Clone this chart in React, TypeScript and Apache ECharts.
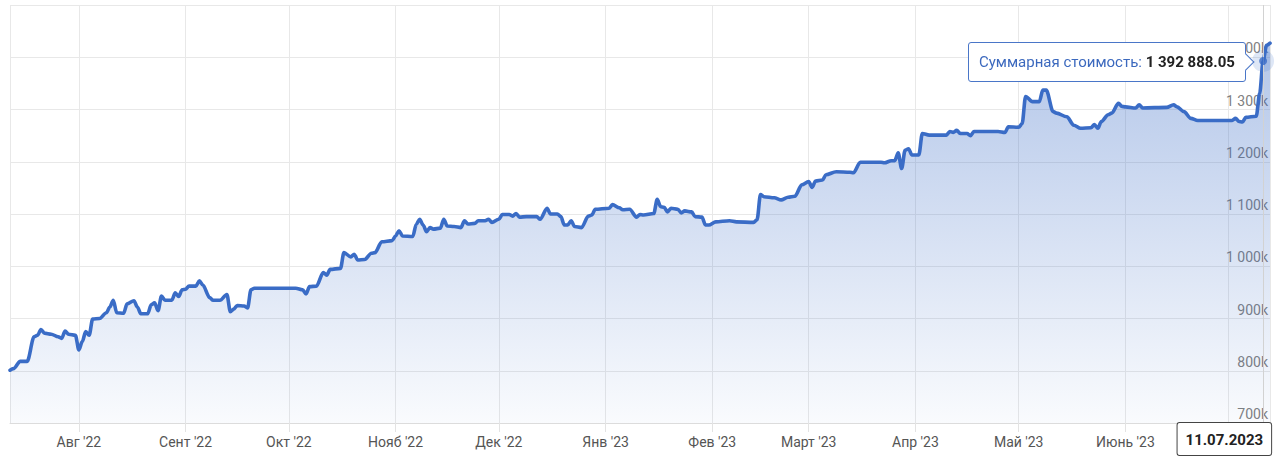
import React, { useEffect, useRef } from "react";
import * as echarts from "echarts";

// ---- data ----
const dates: string[] = [
  "2022-07-12", "2022-07-13", "2022-07-15", "2022-07-17", "2022-07-19", "2022-07-20", "2022-07-21", "2022-07-22",
  "2022-07-24", "2022-07-26", "2022-07-27", "2022-07-28", "2022-07-29", "2022-07-31",
  "2022-08-01", "2022-08-02", "2022-08-03", "2022-08-04", "2022-08-05", "2022-08-07", "2022-08-09", "2022-08-10",
  "2022-08-11", "2022-08-12", "2022-08-14", "2022-08-15", "2022-08-17", "2022-08-18", "2022-08-19", "2022-08-21",
  "2022-08-22", "2022-08-23", "2022-08-24", "2022-08-25", "2022-08-26", "2022-08-28", "2022-08-29", "2022-08-30",
  "2022-08-31",
  "2022-09-01", "2022-09-02", "2022-09-04", "2022-09-05", "2022-09-06", "2022-09-08", "2022-09-09", "2022-09-11",
  "2022-09-13", "2022-09-14", "2022-09-15", "2022-09-16", "2022-09-18", "2022-09-19", "2022-09-20", "2022-09-21",
  "2022-10-03", "2022-10-05", "2022-10-06", "2022-10-07", "2022-10-09", "2022-10-11", "2022-10-12", "2022-10-13",
  "2022-10-16", "2022-10-17", "2022-10-19", "2022-10-20", "2022-10-21", "2022-10-23", "2022-10-25", "2022-10-26",
  "2022-10-28", "2022-10-31",
  "2022-11-01", "2022-11-02", "2022-11-03", "2022-11-06", "2022-11-07", "2022-11-08", "2022-11-09", "2022-11-10",
  "2022-11-11", "2022-11-12", "2022-11-14", "2022-11-15", "2022-11-16", "2022-11-18", "2022-11-20", "2022-11-21",
  "2022-11-22", "2022-11-24", "2022-11-25", "2022-11-27", "2022-11-28", "2022-11-29",
  "2022-12-01", "2022-12-02", "2022-12-04", "2022-12-05", "2022-12-06", "2022-12-07", "2022-12-09", "2022-12-12",
  "2022-12-13", "2022-12-15", "2022-12-16", "2022-12-18", "2022-12-19", "2022-12-20", "2022-12-21", "2022-12-22",
  "2022-12-23", "2022-12-25", "2022-12-27", "2022-12-28", "2022-12-29",
  "2023-01-02", "2023-01-03", "2023-01-05", "2023-01-06", "2023-01-08", "2023-01-10", "2023-01-11", "2023-01-12",
  "2023-01-15", "2023-01-16", "2023-01-17", "2023-01-18", "2023-01-19", "2023-01-20", "2023-01-22", "2023-01-23",
  "2023-01-24", "2023-01-26", "2023-01-27", "2023-01-29", "2023-01-30", "2023-01-31",
  "2023-02-02", "2023-02-06", "2023-02-08", "2023-02-13", "2023-02-14", "2023-02-15", "2023-02-16", "2023-02-19",
  "2023-02-21", "2023-02-23", "2023-02-25", "2023-02-27",
  "2023-03-01", "2023-03-02", "2023-03-03", "2023-03-05", "2023-03-06", "2023-03-09", "2023-03-13", "2023-03-14",
  "2023-03-16", "2023-03-22", "2023-03-23", "2023-03-25", "2023-03-26", "2023-03-27", "2023-03-28", "2023-03-29",
  "2023-03-30", "2023-03-31",
  "2023-04-02", "2023-04-03", "2023-04-05", "2023-04-10", "2023-04-11", "2023-04-12", "2023-04-13", "2023-04-14",
  "2023-04-16", "2023-04-17", "2023-04-18", "2023-04-25", "2023-04-27", "2023-04-28",
  "2023-05-01", "2023-05-02", "2023-05-03", "2023-05-05", "2023-05-07", "2023-05-08", "2023-05-09", "2023-05-11",
  "2023-05-12", "2023-05-15", "2023-05-17", "2023-05-19", "2023-05-22", "2023-05-23", "2023-05-24", "2023-05-25",
  "2023-05-27", "2023-05-28", "2023-05-30", "2023-05-31",
  "2023-06-01", "2023-06-04", "2023-06-05", "2023-06-06", "2023-06-13", "2023-06-15", "2023-06-16", "2023-06-18",
  "2023-06-20", "2023-06-22",
  "2023-07-02", "2023-07-03", "2023-07-04", "2023-07-05", "2023-07-06", "2023-07-09", "2023-07-10", "2023-07-11",
  "2023-07-12", "2023-07-13",
];

const values: number[] = [
  801000, 804000, 818000, 818000, 865000, 868000, 879000, 872000,
  870000, 865000, 862000, 876000, 870000, 868000,
  840000, 856000, 875000, 868000, 899000, 900000, 911000, 922000,
  935000, 911000, 910000, 928000, 934000, 922000, 909000, 909000,
  926000, 930000, 915000, 943000, 935000, 935000, 949000, 942000,
  955000,
  956000, 962000, 962000, 972000, 964000, 940000, 935000, 935000,
  946000, 913000, 918000, 925000, 924000, 920000, 955000, 958000,
  958000, 955000, 947000, 961000, 962000, 988000, 983000, 994000,
  996000, 1026000, 1018000, 1023000, 1012000, 1013000, 1025000, 1026000,
  1047000, 1049000,
  1058000, 1068000, 1058000, 1057000, 1080000, 1090000, 1079000, 1066000,
  1074000, 1071000, 1073000, 1090000, 1077000, 1076000, 1074000, 1087000,
  1081000, 1082000, 1087000, 1087000, 1090000, 1084000,
  1090000, 1099000, 1099000, 1096000, 1101000, 1094000, 1095000, 1095000,
  1090000, 1111000, 1100000, 1100000, 1095000, 1079000, 1079000, 1087000,
  1076000, 1074000, 1096000, 1098000, 1109000,
  1111000, 1118000, 1112000, 1108000, 1109000, 1094000, 1099000, 1098000,
  1101000, 1128000, 1114000, 1113000, 1104000, 1111000, 1109000, 1102000,
  1106000, 1104000, 1095000, 1094000, 1079000, 1079000,
  1085000, 1087000, 1085000, 1084000, 1089000, 1137000, 1133000, 1131000,
  1127000, 1132000, 1134000, 1156000,
  1162000, 1151000, 1163000, 1165000, 1175000, 1181000, 1180000, 1179000,
  1199000, 1199000, 1198000, 1202000, 1202000, 1217000, 1187000, 1222000,
  1225000, 1213000,
  1213000, 1254000, 1251000, 1251000, 1258000, 1256000, 1260000, 1254000,
  1254000, 1250000, 1258000, 1258000, 1256000, 1267000,
  1266000, 1273000, 1325000, 1315000, 1315000, 1337000, 1337000, 1296000,
  1293000, 1286000, 1270000, 1264000, 1265000, 1271000, 1264000, 1277000,
  1290000, 1293000, 1312000, 1306000,
  1305000, 1303000, 1309000, 1303000, 1304000, 1309000, 1305000, 1296000,
  1283000, 1279000,
  1279000, 1283000, 1277000, 1276000, 1285000, 1287000, 1331000, 1392888.05,
  1423000, 1427000,
];

const monthNames: string[] = ["Янв", "Фев", "Март", "Апр", "Май", "Июнь", "Июль", "Авг", "Сент", "Окт", "Нояб", "Дек"];
const seriesName = "Суммарная стоимость";
const selectedDate = "2023-07-11";
const selectedLabel = "11.07.2023";
const yMin = 700000;
const yMax = 1500000;
const yStep = 100000;

const LINE = "#3a6cc6";
const TT_BORDER = "#4a76c8";
const FONT = "Roboto, 'Noto Sans', sans-serif";

const tooltipCss = `
.value-tt::after {
  content: "";
  position: absolute;
  right: -7px;
  top: 50%;
  width: 12px;
  height: 12px;
  margin-top: -6px;
  background: #ffffff;
  border-top: 1px solid ${TT_BORDER};
  border-right: 1px solid ${TT_BORDER};
  transform: rotate(45deg);
  box-sizing: border-box;
}
`;

function fmtSpace(n: number, digits: number): string {
  const parts = n.toFixed(digits).split(".");
  const intPart = parts[0].replace(/\B(?=(\d{3})+(?!\d))/g, " ");
  return parts.length > 1 ? intPart + "." + parts[1] : intPart;
}

export default function App() {
  const ref = useRef<HTMLDivElement>(null);

  useEffect(() => {
    document.body.style.margin = "0";
    if (!ref.current) return;
    const chart = echarts.init(ref.current, undefined, { renderer: "svg" });
    const lineData = dates.map((d, i) => [d, values[i]]);
    const selIdx = dates.indexOf(selectedDate);
    const selPoint = [dates[selIdx], values[selIdx]];
    const selMonth = new Date(selectedDate + "T00:00:00").getMonth();
    const selYear = new Date(selectedDate + "T00:00:00").getFullYear();

    chart.setOption({
      animation: false,
      grid: { left: 10, right: 10, top: 5, bottom: 43, outerBoundsMode: "none", containLabel: false },
      tooltip: {
        trigger: "item",
        triggerOn: "none",
        alwaysShowContent: true,
        transitionDuration: 0,
        className: "value-tt",
        position: (point: number[], _p: any, _d: any, _r: any, size: any) => [
          point[0] - size.contentSize[0] - 17,
          point[1] - size.contentSize[1] / 2 + 1,
        ],
        confine: false,
        backgroundColor: "#ffffff",
        borderColor: TT_BORDER,
        borderWidth: 1,
        borderRadius: 3,
        padding: [8, 10, 7, 10],
        textStyle: { color: "#3c69be", fontSize: 15, fontFamily: FONT },
        extraCssText: "box-shadow:none;",
        formatter: (p: any) =>
          `${seriesName}: <b style="color:#222;font-weight:700">${fmtSpace(p.value[1], 2)}</b>`,
      },
      xAxis: {
        type: "time",
        min: dates[0],
        max: dates[dates.length - 1],
        splitNumber: 10,
        boundaryGap: false,
        axisLine: { show: true, lineStyle: { color: "#dcdcdc", width: 1 } },
        axisTick: { show: true, length: 9, lineStyle: { color: "#e3e3e3" } },
        splitLine: { show: true, lineStyle: { color: "#e8e8e8", width: 1 } },
        axisLabel: {
          color: "#555",
          fontSize: 14,
          fontFamily: FONT,
          margin: 12,
          hideOverlap: false,
          formatter: (v: number) => {
            const d = new Date(v);
            if (d.getDate() !== 1) return "";
            if (d.getMonth() === selMonth && d.getFullYear() === selYear) return "";
            return `${monthNames[d.getMonth()]} '${String(d.getFullYear()).slice(2)}`;
          },
        },
      },
      yAxis: {
        type: "value",
        position: "right",
        min: yMin,
        max: yMax,
        interval: yStep,
        axisLine: { show: false },
        axisTick: { show: false },
        splitLine: { show: true, lineStyle: { color: "#e8e8e8", width: 1 } },
        axisLabel: {
          inside: true,
          margin: 2,
          showMaxLabel: false,
          showMinLabel: true,
          verticalAlign: "bottom",
          padding: [0, 0, 2, 0],
          color: "#808080",
          fontSize: 14,
          fontFamily: FONT,
          formatter: (v: number) => fmtSpace(v / 1000, 0) + "k",
        },
      },
      series: [
        {
          name: seriesName,
          type: "line",
          data: lineData,
          showSymbol: false,
          symbol: "none",
          smooth: 0.3,
          smoothMonotone: "x",
          silent: true,
          lineStyle: { color: LINE, width: 3.6, cap: "round", join: "round" },
          areaStyle: {
            color: new echarts.graphic.LinearGradient(0, 0, 0, 1, [
              { offset: 0, color: "rgba(58,108,198,0.55)" },
              { offset: 1, color: "rgba(58,108,198,0.04)" },
            ]),
          },
          emphasis: { disabled: true },
          markLine: {
            silent: true,
            symbol: ["none", "none"],
            lineStyle: { color: "#d2d2d2", width: 1, type: "solid" },
            label: {
              show: true,
              position: "start",
              formatter: selectedLabel,
              align: "right",
              distance: 0,
              offset: [8, 0],
              backgroundColor: "#ffffff",
              borderColor: "#444",
              borderWidth: 1,
              borderRadius: 2,
              padding: [9, 8, 8, 8],
              color: "#222",
              fontSize: 15,
              fontWeight: "bold",
              fontFamily: FONT,
            },
            data: [{ xAxis: selectedDate }],
          },
          z: 3,
        },
        {
          type: "scatter",
          data: [selPoint],
          symbolSize: 22,
          silent: true,
          itemStyle: { color: "rgba(70,120,205,0.22)" },
          emphasis: { disabled: true },
          z: 4,
        },
        {
          type: "scatter",
          name: seriesName,
          data: [selPoint],
          symbolSize: 8,
          itemStyle: { color: LINE },
          emphasis: { disabled: true },
          z: 5,
        },
      ],
    });

    chart.dispatchAction({ type: "showTip", seriesIndex: 2, dataIndex: 0 });

    return () => {
      chart.dispose();
    };
  }, []);

  return (
    <>
      <style>{tooltipCss}</style>
      <div ref={ref} style={{ width: 1280, height: 466, background: "#fff" }} />
    </>
  );
}
